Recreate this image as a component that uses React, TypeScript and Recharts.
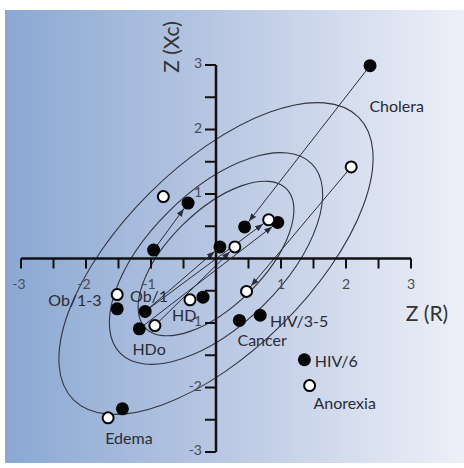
import { ScatterChart, Scatter, XAxis, YAxis } from 'recharts';

const W = 464;
const H = 468;
const MARGIN = { top: 65, right: 53, bottom: 16, left: 21 };
const DOMAIN: [number, number] = [-3, 3];
// pixels per data unit, used only to size the ellipses around their centre
const PX_X = (W - MARGIN.left - MARGIN.right) / (DOMAIN[1] - DOMAIN[0]);
const PX_Y = (H - MARGIN.top - MARGIN.bottom) / (DOMAIN[1] - DOMAIN[0]);
const FONT = 'Lato, "Open Sans", sans-serif';

// filled dots
const filledPoints = [
  { x: 2.37, y: 2.99 },
  { x: 0.44, y: 0.49 },
  { x: 0.95, y: 0.56 },
  { x: -0.43, y: 0.86 },
  { x: -0.96, y: 0.13 },
  { x: 0.06, y: 0.18 },
  { x: -0.2, y: -0.6 },
  { x: -1.09, y: -0.82 },
  { x: -1.18, y: -1.09 },
  { x: -1.52, y: -0.78 },
  { x: -1.44, y: -2.33 },
  { x: 0.36, y: -0.96 },
  { x: 0.68, y: -0.88 },
  { x: 1.36, y: -1.57 },
];

// open dots
const openPoints = [
  { x: 2.08, y: 1.42 },
  { x: 0.81, y: 0.6 },
  { x: -0.81, y: 0.96 },
  { x: 0.29, y: 0.18 },
  { x: 0.47, y: -0.51 },
  { x: -0.4, y: -0.64 },
  { x: -0.94, y: -1.04 },
  { x: -1.52, y: -0.56 },
  { x: -1.66, y: -2.47 },
  { x: 1.44, y: -1.97 },
];

// from -> to
const arrows = [
  [{ x: 2.37, y: 2.99 }, { x: 0.44, y: 0.49 }],
  [{ x: 2.08, y: 1.42 }, { x: 0.47, y: -0.51 }],
  [{ x: -0.96, y: 0.13 }, { x: -0.43, y: 0.86 }],
  [{ x: -1.09, y: -0.82 }, { x: 0.81, y: 0.6 }],
  [{ x: -1.18, y: -1.09 }, { x: 0.95, y: 0.56 }],
  [{ x: -0.94, y: -1.04 }, { x: 0.29, y: 0.18 }],
  [{ x: -1.09, y: -0.82 }, { x: 0.06, y: 0.18 }],
];

// tolerance ellipses (semi axes in data units)
const ellipses = [
  { x: 0, y: 0, a: 1.53, b: 0.73, angle: 45 },
  { x: 0, y: 0, a: 2.08, b: 1.03, angle: 45 },
  { x: 0, y: 0, a: 3.1, b: 1.44, angle: 45 },
];

const tickValues = [-3, -2.5, -2, -1.5, -1, -0.5, 0.5, 1, 1.5, 2, 2.5, 3];
const tickLabels = [-3, -2, -1, 1, 2, 3];

const caseLabels = [
  { x: 2.78, y: 2.37, name: 'Cholera' },
  { x: -2.17, y: -0.64, name: 'Ob/1-3' },
  { x: -1.03, y: -0.58, name: 'Ob/1' },
  { x: -0.49, y: -0.87, name: 'HD' },
  { x: -1.03, y: -1.4, name: 'HDo' },
  { x: -1.34, y: -2.77, name: 'Edema' },
  { x: 0.71, y: -1.25, name: 'Cancer' },
  { x: 1.28, y: -0.96, name: 'HIV/3-5' },
  { x: 1.85, y: -1.58, name: 'HIV/6' },
  { x: 1.98, y: -2.23, name: 'Anorexia' },
];

const xAxisLine = [{ x: DOMAIN[0], y: 0 }, { x: DOMAIN[1], y: 0 }];
const yAxisLine = [{ x: 0, y: DOMAIN[0] }, { x: 0, y: DOMAIN[1] }];
const xTicks = tickValues.map((v) => ({ x: v, y: 0, label: tickLabels.includes(v) ? String(v) : '' }));
const yTicks = tickValues.map((v) => ({ x: 0, y: v, label: tickLabels.includes(v) ? String(v) : '' }));

const Nothing = () => <g />;

const EllipseShape = (props: any) => {
  const { cx, cy, payload } = props;
  return (
    <g transform={`translate(${cx},${cy}) scale(${PX_X},${-PX_Y}) rotate(${payload.angle})`}>
      <ellipse
        cx={0}
        cy={0}
        rx={payload.a}
        ry={payload.b}
        fill="none"
        stroke="#34343e"
        strokeWidth={1.1}
        vectorEffect="non-scaling-stroke"
      />
    </g>
  );
};

const ArrowLine = (props: any) => {
  const pts = props.points || [];
  if (pts.length < 2) return <g />;
  return (
    <line
      x1={pts[0].x}
      y1={pts[0].y}
      x2={pts[1].x}
      y2={pts[1].y}
      stroke="#2b2b33"
      strokeWidth={1}
      markerEnd="url(#arrowHead)"
    />
  );
};

const AxisLine = (props: any) => {
  const pts = props.points || [];
  if (pts.length < 2) return <g />;
  return <line x1={pts[0].x} y1={pts[0].y} x2={pts[1].x} y2={pts[1].y} stroke="#111" strokeWidth={2.5} />;
};

const XTick = (props: any) => {
  const { cx, cy, payload } = props;
  return (
    <g>
      <line x1={cx} y1={cy} x2={cx} y2={cy + 10} stroke="#111" strokeWidth={2} />
      {payload.label && (
        <text x={cx - (payload.x < 0 ? 2 : 0)} y={cy + 30} textAnchor="middle" fontSize={14} fill="#4a4a55" fontFamily={FONT}>
          {payload.label}
        </text>
      )}
    </g>
  );
};

const YTick = (props: any) => {
  const { cx, cy, payload } = props;
  return (
    <g>
      <line x1={cx - 11} y1={cy} x2={cx} y2={cy} stroke="#111" strokeWidth={2} />
      {payload.label && (
        <text x={cx - 14} y={cy + 3} textAnchor="end" fontSize={14} fill="#4a4a55" fontFamily={FONT}>
          {payload.label}
        </text>
      )}
    </g>
  );
};

const FilledDot = (props: any) => <circle cx={props.cx} cy={props.cy} r={6.5} fill="#050505" />;
const OpenDot = (props: any) => (
  <circle cx={props.cx} cy={props.cy} r={5.5} fill="#fff" stroke="#050505" strokeWidth={2} />
);

const CaseLabel = (props: any) => (
  <text
    x={props.cx}
    y={props.cy}
    textAnchor="middle"
    dominantBaseline="central"
    fontSize={16}
    fill="#2b2b36"
    fontFamily={FONT}
  >
    {props.payload.name}
  </text>
);

export default function App() {
  return (
    <div style={{ position: 'absolute', left: 0, top: 0, width: W, height: H, background: '#fff' }}>
      <svg width={0} height={0} style={{ position: 'absolute' }}>
        <defs>
          <marker id="arrowHead" markerWidth={16} markerHeight={8} refX={15} refY={3} orient="auto" markerUnits="userSpaceOnUse">
            <path d="M0,0 L8,3 L0,6 z" fill="#2b2b33" />
          </marker>
        </defs>
      </svg>
      <div
        style={{
          position: 'absolute',
          left: 5,
          top: 10,
          width: W - 5,
          height: H - 15,
          background: 'linear-gradient(to right, #8aa8d3 0%, #b7c6e2 45%, #eef0f8 100%)',
        }}
      />
      <div style={{ position: 'absolute', left: 0, top: 0 }}>
        <ScatterChart width={W} height={H} margin={MARGIN}>
          <XAxis type="number" dataKey="x" domain={DOMAIN} hide />
          <YAxis type="number" dataKey="y" domain={DOMAIN} hide />
          <Scatter data={ellipses} shape={EllipseShape} isAnimationActive={false} />
          {arrows.map((a, i) => (
            <Scatter key={'arrow' + i} data={a} line={<ArrowLine />} shape={Nothing} isAnimationActive={false} />
          ))}
          <Scatter data={xAxisLine} line={<AxisLine />} shape={Nothing} isAnimationActive={false} />
          <Scatter data={yAxisLine} line={<AxisLine />} shape={Nothing} isAnimationActive={false} />
          <Scatter data={xTicks} shape={XTick} isAnimationActive={false} />
          <Scatter data={yTicks} shape={YTick} isAnimationActive={false} />
          <Scatter data={filledPoints} shape={FilledDot} isAnimationActive={false} />
          <Scatter data={openPoints} shape={OpenDot} isAnimationActive={false} />
          <Scatter data={caseLabels} shape={CaseLabel} isAnimationActive={false} />
        </ScatterChart>
      </div>
      <svg width={W} height={H} style={{ position: 'absolute', left: 0, top: 0, pointerEvents: 'none' }}>
        <text x={427} y={321} textAnchor="middle" fontSize={21} fill="#333" fontFamily={FONT}>
          Z (R)
        </text>
        <text
          x={170}
          y={47}
          textAnchor="middle"
          dominantBaseline="central"
          fontSize={21}
          fill="#333"
          fontFamily={FONT}
          transform="rotate(-90 170 47)"
        >
          Z (Xc)
        </text>
      </svg>
    </div>
  );
}
